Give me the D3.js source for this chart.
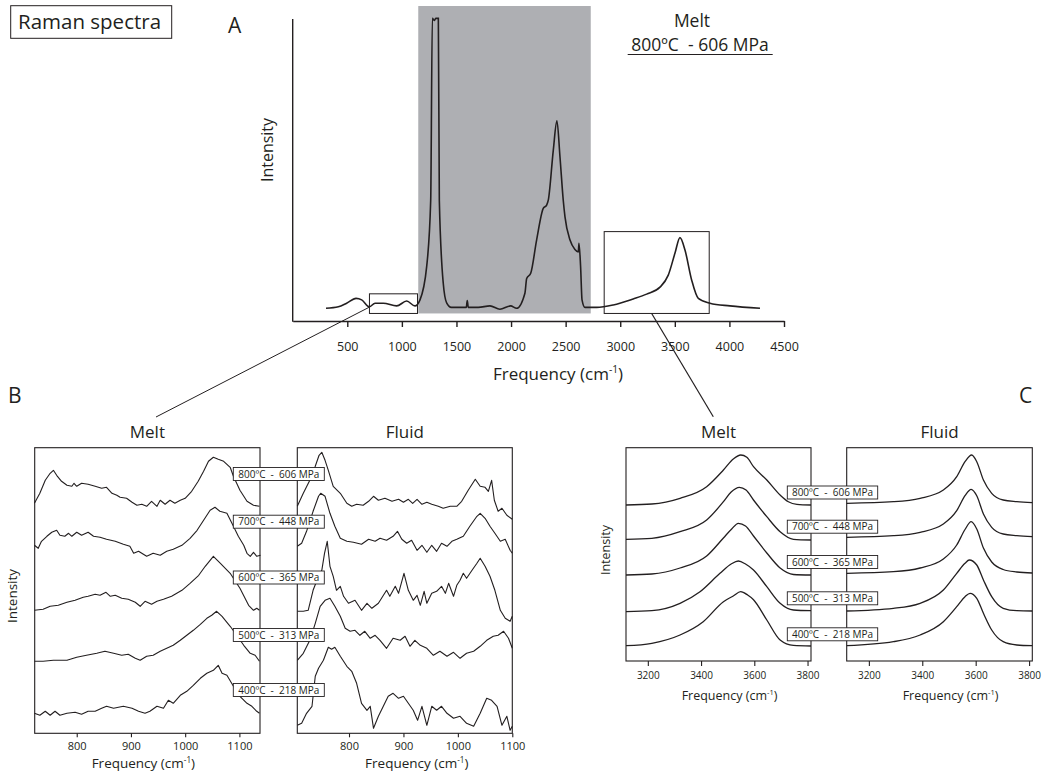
<!DOCTYPE html>
<html>
<head>
<meta charset="utf-8">
<script src="https://d3js.org/d3.v7.min.js"></script>
<style>
body{margin:0;padding:0;background:#fff;}
text{font-family:"Open Sans",sans-serif;fill:#231f20;}
</style>
</head>
<body>
<div id="chart"></div>
<script>
// ---- data (frequency cm-1, intensity a.u.) ----
var ticksA = [500, 1000, 1500, 2000, 2500, 3000, 3500, 4000, 4500];
var ticksB = [800, 900, 1000, 1100];
var ticksC = [3200, 3400, 3600, 3800];
var temps = [800, 700, 600, 500, 400];
var pressures = [606, 448, 365, 313, 218];

// panel A : melt 800 C - 606 MPa, full range
var specA = [[305,4.2],[418,4.7],[494,5.9],[580,7.5],[632,7.0],[702,4.7],[754,5.9],[830,5.9],[952,5.0],[1044,6.6],[1120,5.0],[1166,7.0],[1227,18],[1264,40],[1279,100.2],[1297,99.5],[1310,100.2],[1334,100.2],[1343,40],[1379,12.5],[1410,6],[1453,4.5],[1560,4.5],[1590,4.5],[1599,6.8],[1608,4.5],[1700,4.5],[1807,5.0],[1898,3.9],[1996,5.0],[2051,4.2],[2127,9.2],[2143,14.1],[2180,15.8],[2234,26.8],[2295,37.3],[2326,38.4],[2341,40],[2387,56.6],[2420,66.3],[2448,54.4],[2478,40],[2494,34.5],[2540,26.8],[2585,23.7],[2616,22.9],[2622,25.7],[2637,18],[2650,7],[2677,4.5],[2784,4.5],[2936,5.3],[3119,7.3],[3242,8.9],[3364,11.2],[3440,15.2],[3501,22.4],[3547,27.6],[3593,23.5],[3654,13.6],[3715,7.5],[3822,5.9],[4005,5.0],[4280,4.2]];
var shadeFreq = [1150, 2730];
var shadeInt = [2.5, 104.3];
var zoomFreqB = [703, 1143];
var zoomIntB = [2.5, 9.0];
var zoomFreqC = [2853, 3815];
var zoomIntC = [2.5, 29.6];

// panel B : melt (stacked)
var meltB800 = [[722,230],[732,240],[742,253],[751,260],[757,263],[763,258],[772,252],[782,248],[791,247],[795,250],[800,247],[809,250],[821,249],[834,247],[846,245],[855,246],[865,240],[874,238],[880,236],[892,235],[902,231],[911,228],[920,229],[929,227],[938,232],[948,227],[954,233],[963,229],[972,233],[981,230],[991,233],[1000,235],[1012,242],[1024,252],[1034,262],[1043,272],[1052,276],[1061,274],[1071,272],[1083,266],[1089,257],[1101,243],[1114,232],[1126,228],[1137,227]];
var meltB700 = [[722,188],[729,185],[735,192],[745,197],[754,201],[763,203],[769,198],[778,197],[785,200],[791,197],[800,201],[809,198],[821,201],[831,197],[843,196],[855,194],[871,192],[886,189],[898,187],[905,180],[914,182],[929,177],[941,180],[954,178],[966,182],[978,184],[994,188],[1009,195],[1022,203],[1034,213],[1046,223],[1055,226],[1064,222],[1077,220],[1089,207],[1098,197],[1108,188],[1114,180],[1120,177],[1126,181],[1132,177],[1139,178]];
var meltB600 = [[722,123],[738,124],[751,127],[766,128],[782,131],[797,133],[812,136],[821,137],[834,139],[843,138],[854,141],[862,137],[871,138],[883,135],[895,134],[908,131],[917,127],[926,132],[938,129],[948,132],[960,134],[975,137],[994,143],[1009,150],[1025,158],[1037,167],[1052,177],[1065,170],[1083,160],[1101,145],[1117,128],[1126,123],[1132,125],[1137,123]];
var meltB500 = [[722,72],[738,72],[757,73],[782,73],[800,76],[818,78],[837,80],[852,82],[868,80],[883,78],[895,79],[908,75],[917,73],[929,77],[941,78],[954,82],[966,85],[978,88],[991,93],[1003,98],[1015,103],[1028,109],[1040,115],[1049,118],[1058,122],[1068,117],[1083,107],[1095,98],[1108,88],[1120,80],[1129,78],[1137,72]];
var meltB400 = [[722,20],[732,18],[742,22],[751,18],[760,22],[769,18],[782,20],[797,21],[809,19],[821,22],[834,22],[846,25],[855,27],[868,25],[886,27],[902,25],[914,22],[926,20],[935,22],[948,27],[960,25],[969,33],[978,30],[991,38],[1003,42],[1015,48],[1028,55],[1040,60],[1052,63],[1061,68],[1068,60],[1077,58],[1089,47],[1101,37],[1114,30],[1123,27],[1132,22],[1137,20]];

// panel B : fluid (stacked)
var fluidB800 = [[705,227],[716,240],[728,253],[738,267],[745,278],[750,281],[756,273],[762,263],[771,247],[784,240],[796,230],[805,227],[814,229],[826,228],[836,232],[845,237],[854,233],[866,235],[879,232],[891,234],[900,231],[909,234],[917,230],[925,234],[934,229],[943,231],[952,229],[964,227],[973,225],[986,227],[998,227],[1007,232],[1019,243],[1032,254],[1041,247],[1050,246],[1056,242],[1062,253],[1067,233],[1074,222],[1081,225],[1090,218],[1100,214]];
var fluidB700 = [[705,187],[713,190],[722,202],[734,222],[744,237],[748,240],[756,237],[765,220],[774,207],[784,195],[796,192],[808,191],[823,189],[836,194],[848,192],[857,195],[869,193],[881,197],[889,202],[897,194],[906,190],[915,193],[925,183],[934,188],[943,181],[952,188],[961,182],[970,190],[980,187],[989,192],[998,194],[1010,197],[1022,207],[1035,217],[1041,220],[1050,215],[1059,207],[1068,200],[1078,192],[1087,194],[1096,183],[1100,180]];
var fluidB600 = [[705,122],[716,122],[725,123],[734,143],[744,157],[750,163],[755,180],[760,192],[765,167],[771,157],[777,143],[784,147],[790,137],[799,130],[811,133],[823,123],[833,130],[842,125],[854,130],[869,143],[875,137],[885,147],[891,140],[901,160],[909,143],[918,133],[925,138],[931,128],[938,142],[943,130],[952,140],[961,142],[970,147],[977,140],[983,150],[992,137],[998,148],[1004,153],[1010,160],[1016,155],[1026,163],[1035,170],[1041,175],[1050,167],[1059,157],[1068,143],[1078,123],[1087,115],[1096,112],[1100,117]];
var fluidB500 = [[705,73],[716,80],[728,93],[738,110],[747,127],[756,133],[765,135],[774,127],[784,117],[793,105],[802,102],[811,103],[820,98],[829,102],[839,95],[848,98],[857,93],[869,85],[881,95],[894,93],[903,97],[912,87],[921,93],[931,88],[943,85],[955,78],[967,82],[980,77],[992,81],[1004,75],[1016,80],[1029,82],[1041,87],[1053,93],[1065,97],[1074,98],[1084,102],[1093,95],[1100,85]];
var fluidB400 = [[705,8],[713,10],[722,20],[732,27],[738,57],[744,65],[753,73],[762,86],[768,84],[774,86],[784,77],[796,67],[805,62],[814,50],[823,30],[833,23],[839,27],[845,5],[854,17],[863,27],[872,37],[881,40],[891,35],[900,37],[909,30],[918,23],[926,13],[934,27],[943,8],[952,27],[961,23],[970,27],[980,20],[992,15],[1004,17],[1016,10],[1029,7],[1041,20],[1053,35],[1062,33],[1072,27],[1081,8],[1090,17],[1096,3],[1100,7]];

// panel C : melt (stacked)
var meltC800 = [[3118,156],[3215,157],[3321,162.7],[3421,174.3],[3484,191],[3521,202],[3549,206],[3572,203.7],[3597,194.3],[3647,181],[3697,166],[3728,159.3],[3760,156.7],[3813,156]];
var meltC700 = [[3118,121.7],[3215,122.7],[3321,129.3],[3421,141],[3484,159.3],[3513,169],[3544,173.7],[3569,171],[3597,161],[3647,144.3],[3697,129.3],[3747,121.7],[3813,121]];
var meltC600 = [[3118,86],[3215,87],[3321,93],[3421,105],[3484,123],[3515,132],[3540,137.7],[3567,135],[3597,125],[3647,108],[3697,93],[3747,86.5],[3813,86]];
var meltC500 = [[3118,49.3],[3215,50.3],[3321,57.7],[3396,69.3],[3471,87.7],[3513,97],[3540,100],[3567,97],[3597,91],[3647,74.3],[3697,57.7],[3747,51],[3813,50.3]];
var meltC400 = [[3118,15.3],[3215,17.7],[3321,26],[3408,39.3],[3484,59.3],[3521,65],[3549,69.3],[3575,66],[3597,61.3],[3647,41],[3697,21],[3747,15.6],[3813,15]];

// panel C : fluid (stacked)
var fluidC800 = [[3117,157.7],[3292,159.3],[3392,162.7],[3479,171],[3529,184.3],[3560,199.3],[3585,206],[3604,199.3],[3629,181],[3660,167.7],[3703,161],[3754,159.3],[3812,158.3]];
var fluidC700 = [[3117,123.7],[3292,125.3],[3392,128.7],[3479,137],[3529,150.3],[3560,165.3],[3583,171.7],[3604,165.3],[3629,147],[3660,133.7],[3703,127],[3754,125.3],[3812,124.3]];
var fluidC600 = [[3117,87.7],[3292,89.3],[3392,93],[3479,102],[3529,116],[3560,131.5],[3583,139.3],[3604,132],[3629,113],[3660,99],[3703,91.5],[3754,89],[3812,88]];
var fluidC500 = [[3117,50],[3292,52.7],[3392,57.7],[3479,71],[3529,87.7],[3560,97.7],[3576,101],[3604,96],[3629,81],[3660,64.3],[3703,52.7],[3754,50.3],[3812,50]];
var fluidC400 = [[3117,15.3],[3292,19.3],[3392,26],[3479,39.3],[3529,54.3],[3560,64.3],[3579,67.7],[3604,62.7],[3629,47.7],[3660,31],[3703,19.3],[3754,16],[3812,15.3]];

// ---- drawing ----
var ink = "#231f20";
var svg = d3.select("#chart").append("svg").attr("width", 1046).attr("height", 778);

function freqTitle(x, y, size) {
  var t = svg.append("text").attr("x", x).attr("y", y).attr("text-anchor", "middle").style("font-size", size + "px");
  t.append("tspan").text("Frequency (cm");
  t.append("tspan").attr("baseline-shift", "super").style("font-size", "0.6em").text("-1");
  t.append("tspan").text(")");
}
function vText(x, y, size, s) {
  svg.append("text").attr("transform", "translate(" + x + "," + y + ") rotate(-90)")
    .attr("text-anchor", "middle").style("font-size", size + "px").text(s);
}

// Panel A
var xA = d3.scaleLinear().domain([0, 4500]).range([292.7, 784]);
var yA = d3.scaleLinear().domain([0, 100]).range([321, 19]);

svg.append("rect")
  .attr("x", xA(shadeFreq[0])).attr("width", xA(shadeFreq[1]) - xA(shadeFreq[0]))
  .attr("y", yA(shadeInt[1])).attr("height", yA(shadeInt[0]) - yA(shadeInt[1]))
  .attr("fill", "#aeafb3");

[[zoomFreqB, zoomIntB], [zoomFreqC, zoomIntC]].forEach(function(b) {
  svg.append("rect")
    .attr("x", xA(b[0][0])).attr("width", xA(b[0][1]) - xA(b[0][0]))
    .attr("y", yA(b[1][1])).attr("height", yA(b[1][0]) - yA(b[1][1]))
    .attr("fill", "none").attr("stroke", ink).attr("stroke-width", 1);
});

var lineA = d3.line().x(function(d){ return xA(d[0]); }).y(function(d){ return yA(d[1]); }).curve(d3.curveMonotoneX);
svg.append("path").datum(specA).attr("d", lineA).attr("fill", "none").attr("stroke", ink).attr("stroke-width", 1.6);

var axA = svg.append("g").attr("transform", "translate(0,321)")
  .call(d3.axisBottom(xA).tickValues(ticksA).tickFormat(d3.format("d")).tickSize(6).tickSizeOuter(0).tickPadding(15));
axA.select(".domain").attr("stroke", ink).attr("stroke-width", 1.4);
axA.selectAll(".tick line").attr("stroke", ink).attr("stroke-width", 1.4);
axA.selectAll(".tick text").style("font-size", "12.5px").attr("fill", ink).style("font-family", "'Open Sans',sans-serif");
svg.append("line").attr("x1", 292.7).attr("x2", 292.7).attr("y1", 19).attr("y2", 321.7)
  .attr("stroke", ink).attr("stroke-width", 1.4);

freqTitle(558, 380, 17);
vText(273, 150, 16, "Intensity");

svg.append("rect").attr("x", 10.7).attr("y", 5.7).attr("width", 161).attr("height", 32.6)
  .attr("fill", "none").attr("stroke", ink).attr("stroke-width", 1);
svg.append("text").attr("x", 18).attr("y", 29).style("font-size", "20.5px").text("Raman spectra");
svg.append("text").attr("x", 228).attr("y", 33).style("font-size", "21px").text("A");
svg.append("text").attr("x", 692).attr("y", 27).attr("text-anchor", "middle").style("font-size", "17.5px").text("Melt");
svg.append("text").attr("x", 700).attr("y", 51).attr("text-anchor", "middle").style("font-size", "17.5px")
  .style("white-space", "pre").text(temps[0] + "\u00BAC  - " + pressures[0] + " MPa");
svg.append("line").attr("x1", 627.7).attr("x2", 772.7).attr("y1", 54.5).attr("y2", 54.5).attr("stroke", ink).attr("stroke-width", 1);

svg.append("text").attr("x", 8).attr("y", 403).style("font-size", "21px").text("B");
svg.append("text").attr("x", 1019).attr("y", 403).style("font-size", "21px").text("C");

// connector lines from the zoom boxes of panel A
svg.append("line").attr("x1", xA(zoomFreqB[0])).attr("y1", yA(4.6)).attr("x2", 156).attr("y2", 417)
  .attr("stroke", ink).attr("stroke-width", 1);
svg.append("line").attr("x1", xA(3288)).attr("y1", yA(zoomIntC[0])).attr("x2", 713.3).attr("y2", 416.7)
  .attr("stroke", ink).attr("stroke-width", 1.2);

// stacked sub panels
function stackPanel(o) {
  var x = d3.scaleLinear().domain(o.dom).range([o.left, o.right]);
  var y = d3.scaleLinear().domain([0, o.yMax]).range([o.bottom, o.top]);
  var line = d3.line().x(function(d){ return x(d[0]); }).y(function(d){ return y(d[1]); }).curve(o.curve);
  svg.append("g").selectAll("path").data(o.series).join("path")
    .attr("d", line).attr("fill", "none").attr("stroke", ink).attr("stroke-width", o.lw)
    .attr("stroke-linejoin", "round");
  svg.append("rect").attr("x", o.left).attr("y", o.top)
    .attr("width", o.right - o.left).attr("height", o.bottom - o.top)
    .attr("fill", "none").attr("stroke", ink).attr("stroke-width", 1.1);
  var ax = svg.append("g").attr("transform", "translate(0," + o.bottom + ")")
    .call(d3.axisBottom(x).tickValues(o.ticks).tickFormat(d3.format("d")).tickSize(o.tick).tickSizeOuter(0).tickPadding(o.pad));
  ax.select(".domain").remove();
  ax.selectAll(".tick line").attr("stroke", ink).attr("stroke-width", 1.1);
  ax.selectAll(".tick text").style("font-size", o.fs + "px").attr("fill", ink).style("font-family", "'Open Sans',sans-serif");
  svg.append("text").attr("x", (o.left + o.right) / 2).attr("y", o.top - 10).attr("text-anchor", "middle")
    .style("font-size", "17px").text(o.title);
  freqTitle((o.left + o.right) / 2 + o.titleShift, o.axisTitleY, o.fs + 2.5);
}

stackPanel({left: 34.7, right: 260, top: 447.7, bottom: 733.3, dom: [722.5, 1138], yMax: 285.6,
  series: [meltB800, meltB700, meltB600, meltB500, meltB400], ticks: ticksB, tick: 4, pad: 5, fs: 11,
  curve: d3.curveLinear, lw: 1.1, title: "Melt", axisTitleY: 768, titleShift: -4});
stackPanel({left: 297.3, right: 512.3, top: 447.7, bottom: 733.3, dom: [705, 1100], yMax: 285.6,
  series: [fluidB800, fluidB700, fluidB600, fluidB500, fluidB400], ticks: ticksB, tick: 4, pad: 5, fs: 11,
  curve: d3.curveLinear, lw: 1.1, title: "Fluid", axisTitleY: 768, titleShift: 12});
stackPanel({left: 626, right: 811, top: 447.7, bottom: 661, dom: [3118, 3813], yMax: 213.3,
  series: [meltC800, meltC700, meltC600, meltC500, meltC400], ticks: ticksC, tick: 5, pad: 6, fs: 10,
  curve: d3.curveMonotoneX, lw: 1.3, title: "Melt", axisTitleY: 700, titleShift: 11});
stackPanel({left: 846.7, right: 1032.3, top: 447.7, bottom: 661, dom: [3117, 3812], yMax: 213.3,
  series: [fluidC800, fluidC700, fluidC600, fluidC500, fluidC400], ticks: ticksC, tick: 5, pad: 6, fs: 10,
  curve: d3.curveMonotoneX, lw: 1.3, title: "Fluid", axisTitleY: 700, titleShift: 11});

vText(17, 596, 13.5, "Intensity");
vText(610, 550, 12.5, "Intensity");

// condition labels across the gaps
var labelYB = [474, 521.7, 577.5, 635, 690];
var labelYC = [492.5, 526.7, 562, 598.3, 634.3];
function condLabels(cx, w, ys, fs) {
  var g = svg.append("g").selectAll("g").data(temps).join("g")
    .attr("transform", function(d, i){ return "translate(" + cx + "," + ys[i] + ")"; });
  g.append("rect").attr("x", -w / 2).attr("y", -6.5).attr("width", w).attr("height", 13)
    .attr("fill", "#fff").attr("stroke", ink).attr("stroke-width", 0.9);
  g.append("text").attr("text-anchor", "middle").attr("dy", "0.35em").style("font-size", fs + "px")
    .style("white-space", "pre")
    .text(function(d, i){ return d + "\u00BAC  -  " + pressures[i] + " MPa"; });
}
condLabels(278.8, 91, labelYB, 10);
condLabels(832.5, 90.4, labelYC, 10);
</script>
</body>
</html>
